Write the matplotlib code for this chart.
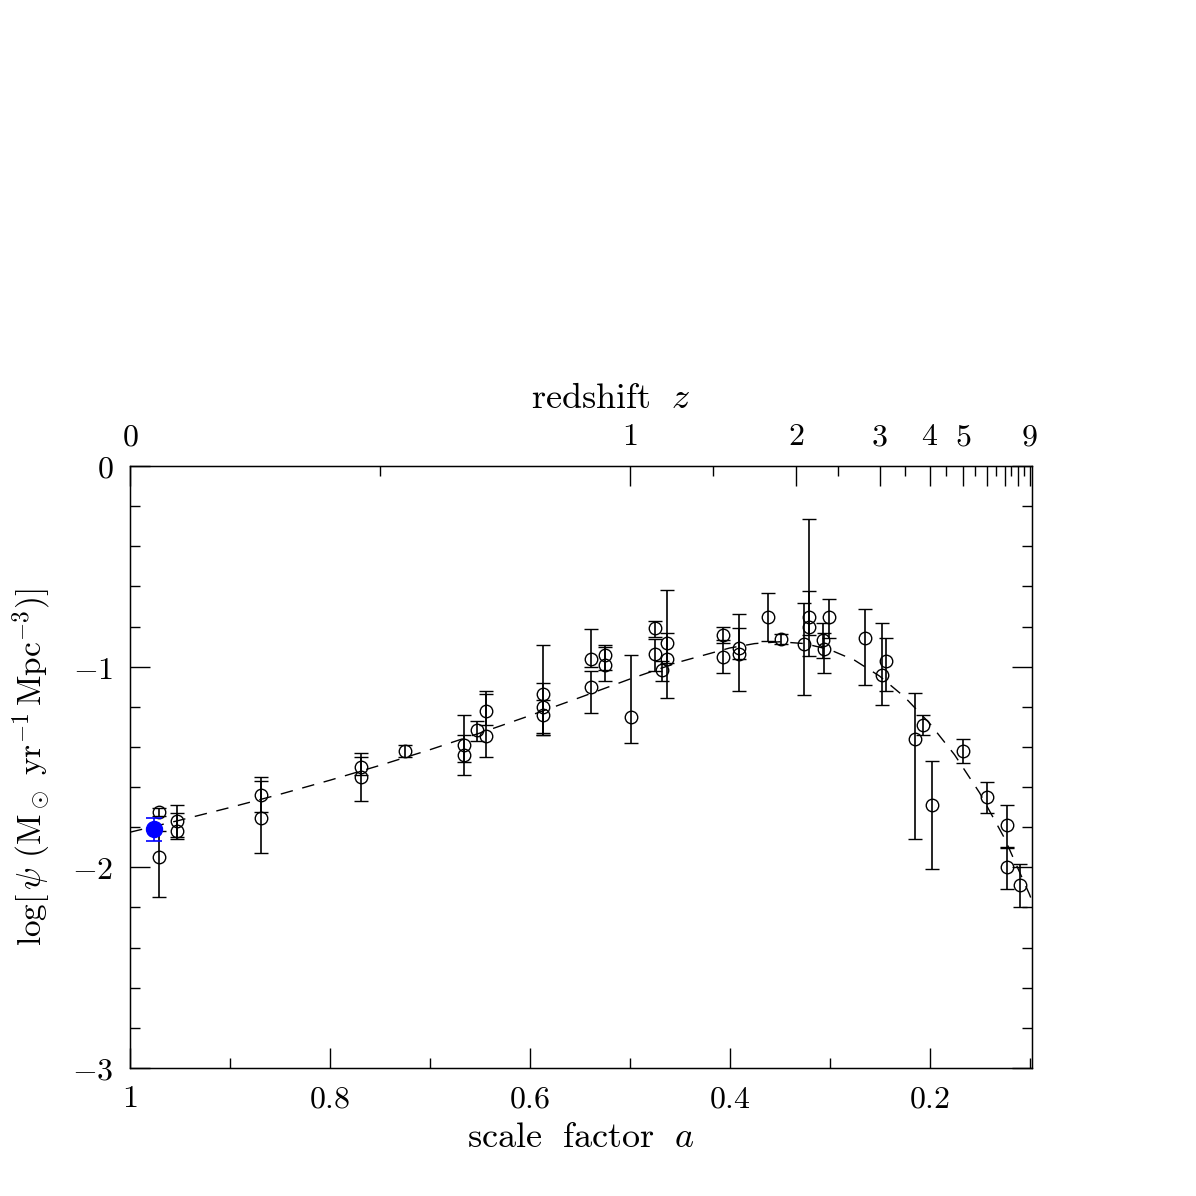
import matplotlib
matplotlib.use("Agg")
import matplotlib.pyplot as plt
from matplotlib.ticker import FixedLocator, FixedFormatter
import numpy as np

plt.rcParams['mathtext.fontset'] = 'cm'
plt.rcParams['font.family'] = 'serif'
plt.rcParams['font.serif'] = ['DejaVu Serif']

# ---- data ----------------------------------------------------------- #
# scale factor a, log psi, upper end of bar, lower end of bar
a_obs = [0.971, 0.971, 0.953, 0.953, 0.869, 0.869, 0.769, 0.769, 0.725,
         0.666, 0.666, 0.653, 0.644, 0.644, 0.587, 0.587, 0.587,
         0.539, 0.539, 0.525, 0.525, 0.499, 0.475, 0.475, 0.468,
         0.463, 0.463, 0.407, 0.407, 0.391, 0.391, 0.362, 0.349,
         0.326, 0.321, 0.321, 0.307, 0.306, 0.301, 0.265, 0.248,
         0.244, 0.215, 0.207, 0.198, 0.167, 0.143, 0.123, 0.123, 0.110]
logpsi = [-1.724, -1.948, -1.768, -1.819, -1.640, -1.754, -1.498, -1.548, -1.420,
          -1.390, -1.440, -1.316, -1.221, -1.344, -1.138, -1.199, -1.241,
          -0.962, -1.100, -0.942, -0.992, -1.251, -0.807, -0.937, -1.017,
          -0.884, -0.962, -0.842, -0.950, -0.908, -0.937, -0.751, -0.862,
          -0.889, -0.751, -0.801, -0.867, -0.912, -0.751, -0.857, -1.042,
          -0.972, -1.360, -1.291, -1.689, -1.419, -1.648, -1.789, -1.998, -2.088]
logpsi_hi = [-1.703, -1.820, -1.689, -1.729, -1.548, -1.568, -1.430, -1.450, -1.390,
             -1.241, -1.340, -1.271, -1.121, -1.136, -0.892, -1.081, -1.166,
             -0.812, -1.020, -0.892, -0.902, -0.942, -0.773, -0.860, -0.970,
             -0.620, -0.830, -0.801, -0.867, -0.809, -0.739, -0.631, -0.837,
             -0.681, -0.264, -0.621, -0.782, -0.832, -0.663, -0.713, -0.781,
             -0.857, -1.133, -1.241, -1.470, -1.360, -1.573, -1.689, -1.904, -1.983]
logpsi_lo = [-1.744, -2.148, -1.849, -1.859, -1.724, -1.929, -1.540, -1.668, -1.450,
             -1.473, -1.540, -1.370, -1.290, -1.449, -1.341, -1.329, -1.341,
             -1.002, -1.229, -1.017, -1.071, -1.380, -0.850, -1.020, -1.070,
             -0.980, -1.158, -0.881, -1.030, -0.960, -1.121, -0.872, -0.887,
             -1.141, -0.947, -0.842, -0.957, -1.030, -0.857, -1.091, -1.191,
             -1.121, -1.859, -1.340, -2.008, -1.479, -1.728, -1.897, -2.108, -2.198]

# local (blue) point
a_local = [0.976]
logpsi_local = [-1.809]
logpsi_local_hi = [-1.754]
logpsi_local_lo = [-1.869]

# dashed fit curve
a_fit = [1.0, 0.95, 0.9, 0.85, 0.8, 0.75, 0.7, 0.65, 0.6, 0.55, 0.5, 0.45,
         0.4, 0.375, 0.35, 0.325, 0.3, 0.275, 0.25, 0.225, 0.2, 0.175,
         0.15, 0.125, 0.1, 0.0975]
logpsi_fit = [-1.825, -1.765, -1.702, -1.636, -1.566, -1.492, -1.414, -1.331,
              -1.244, -1.154, -1.062, -0.976, -0.907, -0.885, -0.876, -0.885,
              -0.915, -0.968, -1.047, -1.151, -1.282, -1.439, -1.628, -1.855,
              -2.135, -2.167]

# axis ticks
a_major = [1.0, 0.8, 0.6, 0.4, 0.2]
a_minor = [0.9, 0.7, 0.5, 0.3, 0.1]
y_major = [-3, -2, -1, 0]
z_major = [0, 1, 2, 3, 4, 5, 6, 7, 8, 9]
z_labelled = [0, 1, 2, 3, 4, 5, 9]

# -------------------------------------------------------------------- #
fig = plt.figure(figsize=(11.96, 11.96), dpi=100)
ax = fig.add_axes([130/1196, 1 - 1068/1196, 902/1196, 602/1196])

ax.plot(a_fit, logpsi_fit, color='black', lw=1.0, dashes=(9, 7))

lo = np.array(logpsi) - np.array(logpsi_lo)
hi = np.array(logpsi_hi) - np.array(logpsi)
ax.errorbar(a_obs, logpsi, yerr=[lo, hi], fmt='o', ms=9.0, mfc='none',
            mec='black', mew=1.0, ecolor='black', elinewidth=1.2,
            capsize=5, capthick=1.2)

lo_b = np.array(logpsi_local) - np.array(logpsi_local_lo)
hi_b = np.array(logpsi_local_hi) - np.array(logpsi_local)
ax.errorbar(a_local, logpsi_local, yerr=[lo_b, hi_b], fmt='o', ms=11.5,
            color='#0000ff', mec='#0000ff', elinewidth=1.2, capsize=6,
            capthick=1.2, zorder=5)

ax.set_xlim(1.0, 0.0975)
ax.set_ylim(-3, 0)

ax.xaxis.set_major_locator(FixedLocator(a_major))
ax.xaxis.set_minor_locator(FixedLocator(a_minor))
ax.xaxis.set_major_formatter(FixedFormatter(['$1$', '$0.8$', '$0.6$', '$0.4$', '$0.2$']))
ax.yaxis.set_major_locator(FixedLocator(y_major))
ax.yaxis.set_minor_locator(FixedLocator(np.arange(-3, 0.01, 0.2)))
ax.yaxis.set_major_formatter(FixedFormatter(['$-3$', '$-2$', '$-1$', '$0$']))

ax.tick_params(which='both', direction='in', top=False, right=True,
               width=1.0, labelsize=23)
ax.tick_params(which='major', length=14.4)
ax.tick_params(which='minor', length=7.2)
ax.tick_params(axis='x', pad=11)
ax.tick_params(axis='y', pad=12)

for sp in ax.spines.values():
    sp.set_linewidth(1.0)

# top axis in redshift
ax2 = ax.twiny()
ax2.set_xlim(ax.get_xlim())
a_of_z = [1.0 / (1 + z) for z in z_major]
ax2.xaxis.set_major_locator(FixedLocator(a_of_z))
ax2.xaxis.set_minor_locator(FixedLocator(
    [(a_of_z[i] + a_of_z[i + 1]) / 2 for i in range(len(a_of_z) - 1)]))
ax2.xaxis.set_major_formatter(FixedFormatter(
    ['$%d$' % z if z in z_labelled else '' for z in z_major]))
ax2.tick_params(which='both', direction='in', width=1.0, labelsize=23, pad=10)
ax2.tick_params(which='major', length=14.4)
ax2.tick_params(which='minor', length=7.2)

ax.set_xlabel(r'$\mathrm{scale\ \ factor}\ \ a$', fontsize=26, labelpad=4)
ax.set_ylabel(r'$\log[\,\psi\ (\mathrm{M}_\odot\ \mathrm{yr}^{-1}\,\mathrm{Mpc}^{-3})]$',
              fontsize=24)
ax.yaxis.set_label_coords(-0.085, 0.5)
fig.text(611/1196, 1 - 398/1196, r'$\mathrm{redshift}\ \ z$',
         fontsize=26, ha='center', va='center')

fig.savefig('out.png', dpi=100)
